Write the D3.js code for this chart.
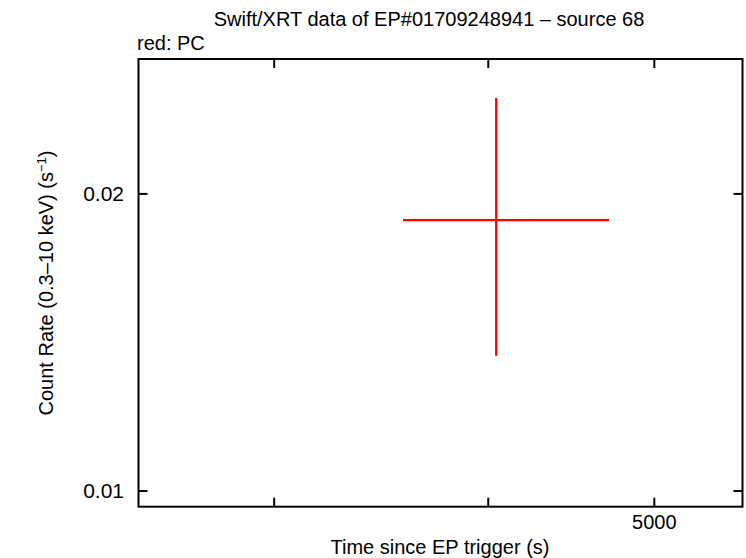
<!DOCTYPE html>
<html>
<head>
<meta charset="utf-8">
<script src="https://cdn.jsdelivr.net/npm/d3@7"></script>
<style>
	body { margin: 0; background: #fff; }
	text { font-family: "Liberation Sans", Arial, sans-serif; fill: #000; }
</style>
</head>
<body>
<svg id="chart" width="746" height="558"></svg>
<script>
// data
var times = [4043];
var timeLo = [3567];
var timeHi = [4705];
var rates = [0.01881];
var rateLo = [0.01371];
var rateHi = [0.02502];

var xTicks = [3000, 4000, 5000];
var xTickLabels = ["", "", "5000"];
var yTicks = [0.01, 0.02];
var yTickLabels = ["0.01", "0.02"];

var xDomain = [2500, 5629];
var yDomain = [0.00964, 0.0274];

var margin = { left: 138.5, right: 742.5, top: 59, bottom: 506.7 };

var svg = d3.select("#chart");

var x = d3.scaleLog().domain(xDomain).range([margin.left, margin.right]);
var y = d3.scaleLog().domain(yDomain).range([margin.bottom, margin.top]);

var tickLen = 9;

// frame
svg.append("rect")
	.attr("x", margin.left).attr("y", margin.top)
	.attr("width", margin.right - margin.left)
	.attr("height", margin.bottom - margin.top)
	.attr("fill", "none").attr("stroke", "#000").attr("stroke-width", 2);

// x ticks (bottom and mirrored on top)
xTicks.forEach(function (t, i) {
	var px = x(t);
	svg.append("line").attr("x1", px).attr("x2", px)
		.attr("y1", margin.bottom).attr("y2", margin.bottom - tickLen)
		.attr("stroke", "#000").attr("stroke-width", 2);
	svg.append("line").attr("x1", px).attr("x2", px)
		.attr("y1", margin.top).attr("y2", margin.top + tickLen)
		.attr("stroke", "#000").attr("stroke-width", 2);
	if (xTickLabels[i]) {
		svg.append("text").attr("x", px).attr("y", 529)
			.attr("text-anchor", "middle").attr("font-size", 20)
			.text(xTickLabels[i]);
	}
});

// y ticks (left and mirrored on right)
yTicks.forEach(function (t, i) {
	var py = y(t);
	svg.append("line").attr("x1", margin.left).attr("x2", margin.left + tickLen)
		.attr("y1", py).attr("y2", py)
		.attr("stroke", "#000").attr("stroke-width", 2);
	svg.append("line").attr("x1", margin.right).attr("x2", margin.right - tickLen)
		.attr("y1", py).attr("y2", py)
		.attr("stroke", "#000").attr("stroke-width", 2);
	svg.append("text").attr("x", 124).attr("y", py + 7)
		.attr("text-anchor", "end").attr("font-size", 21)
		.text(yTickLabels[i]);
});

// error bars
var g = svg.append("g").attr("stroke", "#f00").attr("stroke-width", 2.3);
times.forEach(function (t, i) {
	g.append("line")
		.attr("x1", x(timeLo[i])).attr("x2", x(timeHi[i]))
		.attr("y1", y(rates[i])).attr("y2", y(rates[i]));
	g.append("line")
		.attr("x1", x(t)).attr("x2", x(t))
		.attr("y1", y(rateLo[i])).attr("y2", y(rateHi[i]));
});

// titles
svg.append("text").attr("x", 429).attr("y", 26)
	.attr("text-anchor", "middle").attr("font-size", 20)
	.text("Swift/XRT data of EP#01709248941 \u2013 source 68");
svg.append("text").attr("x", 137).attr("y", 50)
	.attr("font-size", 20)
	.text("red: PC");
svg.append("text").attr("x", 440).attr("y", 554)
	.attr("text-anchor", "middle").attr("font-size", 20)
	.text("Time since EP trigger (s)");

var yl = svg.append("text")
	.attr("transform", "translate(53,283) rotate(-90)")
	.attr("text-anchor", "middle").attr("font-size", 20);
yl.append("tspan").text("Count Rate (0.3\u201310 keV) (s");
yl.append("tspan").attr("dy", -7).attr("font-size", 13).text("\u22121");
yl.append("tspan").attr("dy", 7).text(")");
</script>
</body>
</html>
